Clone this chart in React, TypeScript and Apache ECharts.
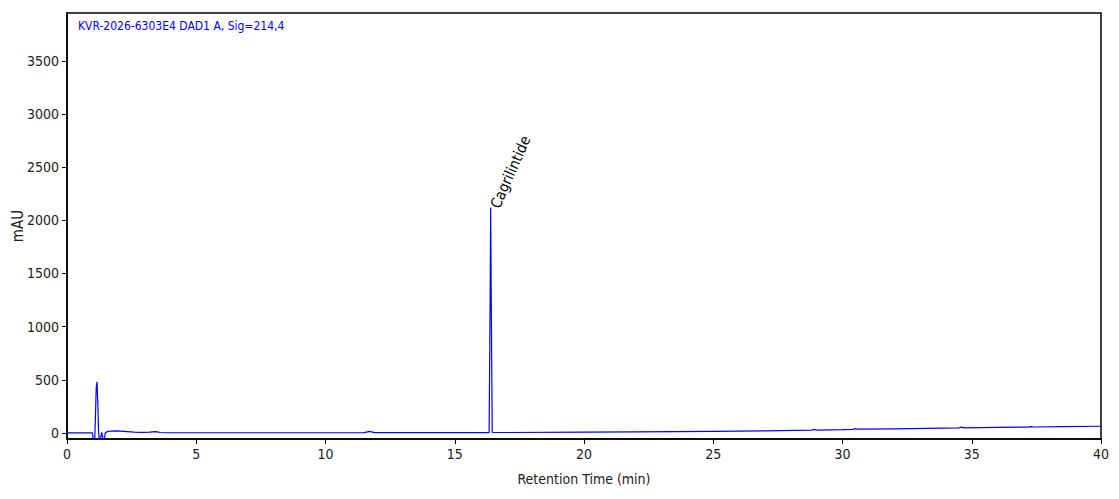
import React, { useEffect, useRef } from 'react'
import * as echarts from 'echarts'

// chromatogram trace (time in min, signal in mAU)
const times = [
	0, 0.5, 0.98, 1.0, 1.03, 1.07, 1.1, 1.13, 1.16, 1.19, 1.22, 1.26, 1.3, 1.34, 1.38, 1.43, 1.48, 1.55,
	1.7, 1.9, 2.2, 2.6, 2.9, 3.2, 3.4, 3.5, 3.6, 3.8, 5, 8, 11.5, 11.7, 11.9, 14, 16.0, 16.33,
	16.37, 16.39, 16.41, 16.45, 17, 20, 22, 25, 27, 28.8, 28.9, 29.0, 30, 30.4, 30.5, 30.6, 32, 34.5,
	34.6, 34.7, 36, 37.2, 37.3, 37.4, 38.5, 40,
]
const signal = [
	0, 0, 0, -20, -120, -90, 150, 420, 480, 300, 20, -90, -50, 5, -40, -80, 0, 12,
	18, 19, 15, 8, 5, 8, 12, 10, 4, 2, 2, 2, 3, 14, 3, 3, 3, 3,
	1300, 2120, 1300, 4, 4, 7, 10, 15, 19, 26, 33, 27, 31, 34, 40, 35, 39, 47,
	54, 48, 52, 55, 60, 56, 59, 63,
]
const traceData = times.map((t, i) => [t, signal[i]])

const yTicks = [0, 500, 1000, 1500, 2000, 2500, 3000, 3500]
const title = 'KVR-2026-6303E4 DAD1 A, Sig=214,4'
const peakName = 'Cagrilintide'
const peakTime = 16.39
const peakHeight = 2120

const font = '"DejaVu Sans Condensed", "DejaVu Sans", sans-serif'

const App = () => {
	const chartRef = useRef(null)

	useEffect(() => {
		const chart = echarts.init(chartRef.current, null, { renderer: 'svg' })

		chart.setOption({
			animation: false,
			backgroundColor: '#fff',
			textStyle: { fontFamily: font },
			grid: {
				left: 67,
				right: 18,
				top: 13,
				bottom: 60,
				containLabel: false,
				outerBoundsMode: 'none',
				show: true,
				borderColor: '#000',
				borderWidth: 1.5,
			},
			xAxis: {
				type: 'value',
				min: 0,
				max: 40,
				interval: 5,
				name: 'Retention Time (min)',
				nameLocation: 'middle',
				nameGap: 33,
				nameTextStyle: { fontSize: 14, color: '#222', fontFamily: font },
				axisLine: { show: true, onZero: false, lineStyle: { color: '#000', width: 1.5 } },
				axisTick: { show: true, inside: false, length: 5, lineStyle: { color: '#000' } },
				axisLabel: { fontSize: 14, color: '#222', margin: 8, fontFamily: font },
				splitLine: { show: false },
			},
			yAxis: {
				type: 'value',
				min: -57,
				max: 3950,
				name: 'mAU',
				nameLocation: 'middle',
				nameGap: 42,
				nameMoveOverlap: false,
				nameRotate: 90,
				nameTextStyle: { fontSize: 15, color: '#222', fontFamily: font },
				axisLine: { show: true, onZero: false, lineStyle: { color: '#000', width: 1.5 } },
				axisTick: { show: true, length: 5, customValues: yTicks, lineStyle: { color: '#000' } },
				axisLabel: {
					fontSize: 14,
					color: '#222',
					margin: 8,
					customValues: yTicks,
					fontFamily: font,
					formatter: (v) => String(v),
				},
				splitLine: { show: false },
			},
			series: [
				{
					type: 'line',
					data: traceData,
					showSymbol: false,
					clip: true,
					lineStyle: { color: '#0000ff', width: 1.2 },
				},
			],
		})

		const [px, py] = chart.convertToPixel({ gridIndex: 0 }, [peakTime, peakHeight])
		chart.setOption({
			graphic: [
				{
					type: 'text',
					left: 78,
					top: 20,
					style: { text: title, fill: '#0000ff', fontSize: 12, fontFamily: font },
				},
				{
					type: 'text',
					x: px + 11,
					y: py + 3,
					rotation: (66 * Math.PI) / 180,
					style: {
						text: peakName,
						fill: '#000',
						fontSize: 15,
						fontFamily: font,
						align: 'left',
						verticalAlign: 'bottom',
					},
				},
			],
		})

		return () => {
			chart.dispose()
		}
	}, [])

	return (
		<div
			ref={chartRef}
			style={{ position: 'fixed', left: 0, top: 0, width: '1119px', height: '499px' }}
		/>
	)
}

export default App
